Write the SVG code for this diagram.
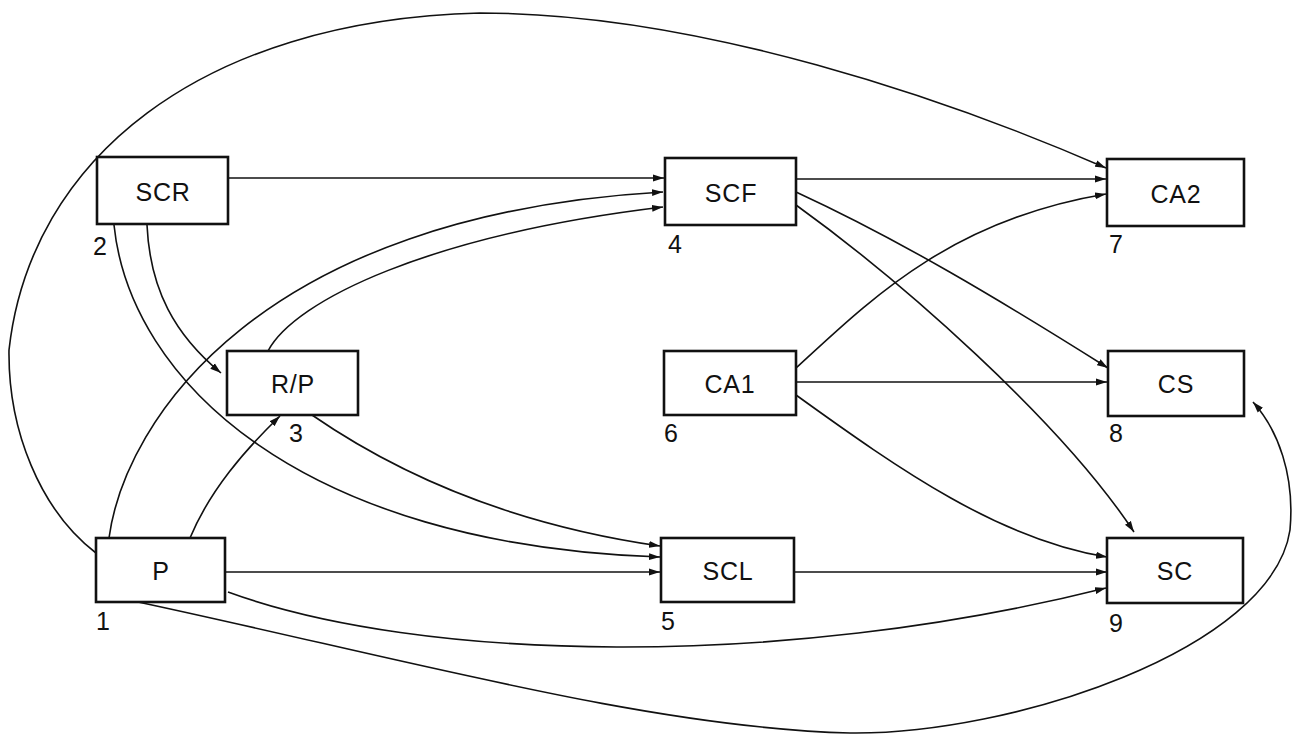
<svg xmlns="http://www.w3.org/2000/svg" width="1295" height="736" viewBox="0 0 1295 736">
<style>
.box{fill:#fff;stroke:#111;stroke-width:2.6}
.lbl{font-family:"Liberation Sans",Arial,sans-serif;font-size:25px;fill:#111;text-anchor:middle;letter-spacing:0.8px}
.num{font-family:"Liberation Sans",Arial,sans-serif;font-size:25px;fill:#111}
.c{fill:none;stroke:#111;stroke-width:1.6;marker-end:url(#ah)}
</style>
<defs>
<marker id="ah" markerUnits="userSpaceOnUse" markerWidth="12" markerHeight="8" refX="11" refY="4" orient="auto">
<path d="M0,0.5 L11,4 L0,7.5 z" fill="#111"/>
</marker>
</defs>
<rect width="1295" height="736" fill="#fff"/>
<g id="connectors">
<path class="c" d="M228,178 H664"/>
<path class="c" d="M109,538 C125,420 260,215 663,192"/>
<path class="c" d="M268,351 C295,300 430,235 663,207"/>
<path class="c" d="M147,225 C150,290 175,335 221,373"/>
<path class="c" d="M114,225 C130,380 300,545 660,557"/>
<path class="c" d="M312,415 C370,455 480,520 660,546"/>
<path class="c" d="M190,538 C210,490 245,450 280,416"/>
<path class="c" d="M225,572 H660"/>
<path class="c" d="M228,592 C420,662 780,670 1106,588"/>
<path class="c" d="M138,602 C400,658 650,728 850,733 C1010,735 1272,650 1290,530 C1295,475 1278,430 1253,402"/>
<path class="c" d="M96,553 C40,510 8,430 9,350 C30,160 200,20 480,13 C700,13 950,100 1106,168"/>
<path class="c" d="M796,179 H1106"/>
<path class="c" d="M796,192 C900,240 1000,300 1108,368"/>
<path class="c" d="M796,205 C900,280 1060,420 1134,532"/>
<path class="c" d="M796,368 C870,300 950,220 1106,194"/>
<path class="c" d="M796,382 H1107"/>
<path class="c" d="M796,395 C900,470 1000,540 1107,557"/>
<path class="c" d="M794,572 H1107"/>
</g>
<g id="n1"><rect class="box" x="96" y="538" width="129" height="64"/><text class="lbl" x="161" y="580">P</text><text class="num" x="96" y="630">1</text></g>
<g id="n2"><rect class="box" x="97" y="157" width="131" height="67"/><text class="lbl" x="163" y="201">SCR</text><text class="num" x="93" y="255">2</text></g>
<g id="n3"><rect class="box" x="227" y="351" width="131" height="64"/><text class="lbl" x="293" y="393">R/P</text><text class="num" x="289" y="442">3</text></g>
<g id="n4"><rect class="box" x="665" y="158" width="131" height="67"/><text class="lbl" x="731" y="202">SCF</text><text class="num" x="668" y="253">4</text></g>
<g id="n5"><rect class="box" x="661" y="538" width="133" height="64"/><text class="lbl" x="728" y="580">SCL</text><text class="num" x="661" y="630">5</text></g>
<g id="n6"><rect class="box" x="664" y="351" width="132" height="64"/><text class="lbl" x="730" y="393">CA1</text><text class="num" x="664" y="442">6</text></g>
<g id="n7"><rect class="box" x="1107" y="159" width="137" height="67"/><text class="lbl" x="1176" y="203">CA2</text><text class="num" x="1109" y="253">7</text></g>
<g id="n8"><rect class="box" x="1108" y="351" width="136" height="65"/><text class="lbl" x="1176" y="393">CS</text><text class="num" x="1109" y="442">8</text></g>
<g id="n9"><rect class="box" x="1107" y="538" width="136" height="65"/><text class="lbl" x="1175" y="580">SC</text><text class="num" x="1109" y="632">9</text></g>
</svg>
